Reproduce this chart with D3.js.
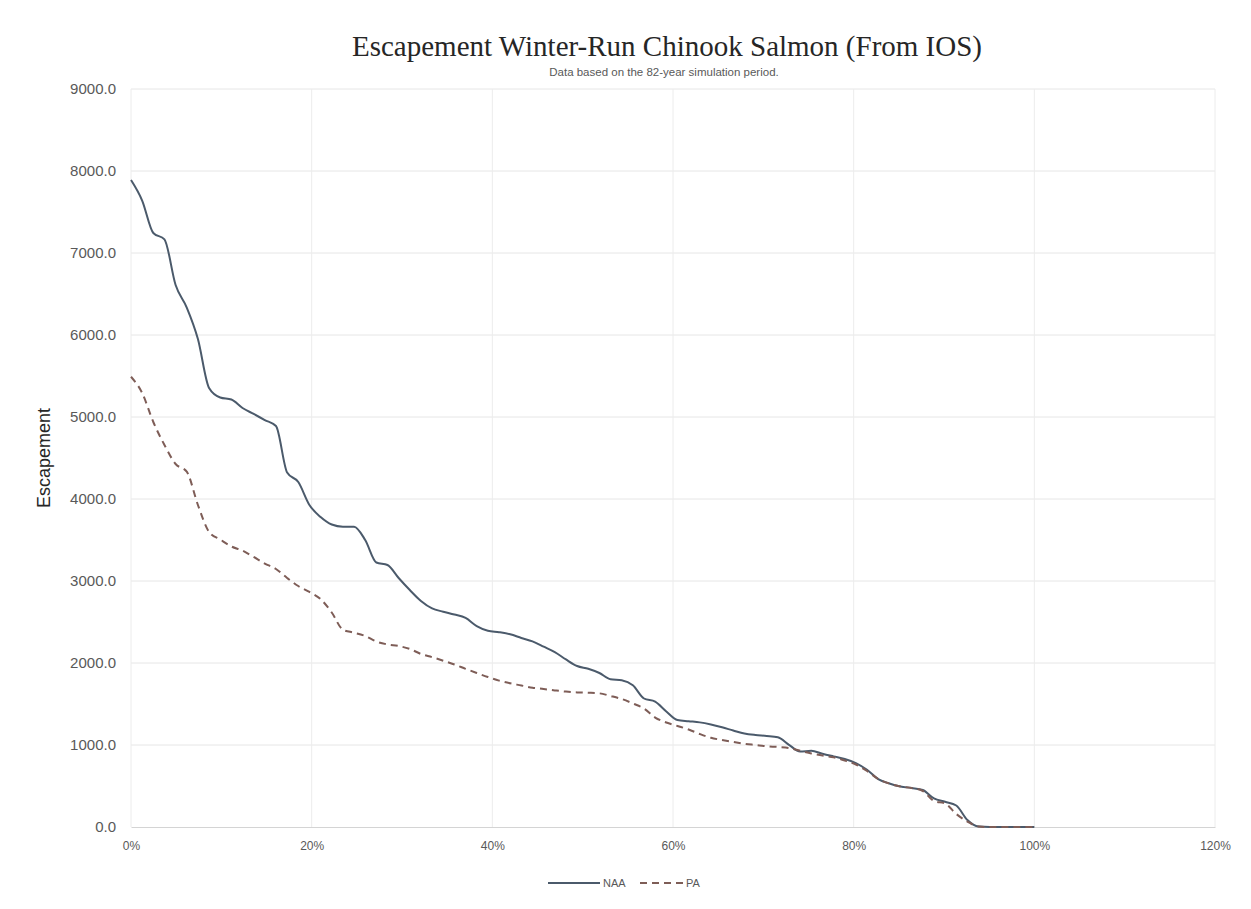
<!DOCTYPE html>
<html>
<head>
<meta charset="utf-8">
<script src="https://cdn.jsdelivr.net/npm/d3@7"></script>
<style>
  body { margin: 0; background: #fff; }
  text { font-family: "Liberation Sans", Arial, sans-serif; }
</style>
</head>
<body>
<script>
const width = 1251;
const height = 909;

// Escapement values, sorted descending (82-year period)
const naa = [
  7890, 7640, 7244, 7167, 6610, 6335, 5951, 5354, 5238, 5213,
  5110, 5037, 4963, 4890, 4323, 4207, 3927, 3780, 3689, 3662,
  3662, 3500, 3226, 3195, 3037, 2890, 2756, 2665, 2626, 2591,
  2549, 2451, 2394, 2376, 2350, 2305, 2263, 2199, 2132, 2043,
  1963, 1930, 1878, 1801, 1789, 1728, 1567, 1528, 1409, 1305,
  1290, 1276, 1250, 1216, 1177, 1140, 1122, 1111, 1094, 1002,
  921, 929, 893, 861, 830, 780, 698, 585, 530, 494,
  476, 451, 348, 307, 262, 85, 6, 0, 0, 0,
  0, 0
];
const pa = [
  5491, 5293, 4939, 4659, 4427, 4333, 3927, 3598, 3506, 3421,
  3370, 3293, 3213, 3146, 3037, 2939, 2866, 2780, 2616, 2406,
  2370, 2329, 2262, 2226, 2207, 2171, 2110, 2071, 2028, 1982,
  1929, 1878, 1829, 1785, 1752, 1726, 1698, 1683, 1666, 1651,
  1641, 1637, 1630, 1598, 1561, 1506, 1445, 1335, 1274, 1232,
  1189, 1134, 1088, 1061, 1037, 1015, 1000, 985, 976, 963,
  929, 896, 872, 850, 811, 762, 683, 585, 530, 494,
  476, 439, 317, 287, 159, 67, 6, 0, 0, 0,
  0, 0
];
const yTicks = [0, 1000, 2000, 3000, 4000, 5000, 6000, 7000, 8000, 9000];
const xTicks = [0, 0.2, 0.4, 0.6, 0.8, 1.0, 1.2];

const series = [
  { name: "NAA", values: naa, color: "#4b5a6b", dash: null },
  { name: "PA", values: pa, color: "#7e5d57", dash: "7,5" }
];

const margin = { left: 131, right: 36, top: 89, bottom: 82 };

const svg = d3
  .select("body")
  .append("svg")
  .attr("width", width)
  .attr("height", height);

const x = d3
  .scaleLinear()
  .domain([0, 1.2])
  .range([margin.left, width - margin.right]);

const y = d3
  .scaleLinear()
  .domain([0, 9000])
  .range([height - margin.bottom, margin.top]);

// gridlines
svg
  .append("g")
  .selectAll("line")
  .data(yTicks.slice(1))
  .enter()
  .append("line")
  .attr("x1", x(0))
  .attr("x2", x(1.2))
  .attr("y1", (d) => y(d))
  .attr("y2", (d) => y(d))
  .attr("stroke", "#e6e6e6")
  .attr("stroke-width", 1);

svg
  .append("g")
  .selectAll("line")
  .data(xTicks)
  .enter()
  .append("line")
  .attr("x1", (d) => x(d))
  .attr("x2", (d) => x(d))
  .attr("y1", y(0))
  .attr("y2", y(9000))
  .attr("stroke", "#ececec")
  .attr("stroke-width", 1);

// axes
const yAxis = svg
  .append("g")
  .attr("transform", `translate(${margin.left - 12},0)`)
  .call(d3.axisLeft(y).tickValues(yTicks).tickSize(0).tickFormat(d3.format(".1f")));
yAxis.select(".domain").remove();
yAxis
  .selectAll("text")
  .attr("fill", "#595959")
  .style("font-size", "15px");

const xAxis = svg
  .append("g")
  .attr("transform", `translate(0,${y(0)})`)
  .call(d3.axisBottom(x).tickValues(xTicks).tickSize(0).tickFormat(d3.format(".0%")));
xAxis.select(".domain").attr("stroke", "#d4d4d4");
xAxis
  .selectAll("text")
  .attr("y", 14)
  .attr("dy", "0.71em")
  .attr("fill", "#595959")
  .style("font-size", "12px");

// lines (smoothed like the spreadsheet original)
const line = d3
  .line()
  .x((d, i, arr) => x(i / (arr.length - 1)))
  .y((d) => y(d))
  .curve(d3.curveMonotoneX);

svg
  .append("g")
  .selectAll("path")
  .data(series)
  .enter()
  .append("path")
  .attr("d", (d) => line(d.values))
  .attr("fill", "none")
  .attr("stroke", (d) => d.color)
  .attr("stroke-width", 2)
  .attr("stroke-linejoin", "round")
  .attr("stroke-dasharray", (d) => d.dash);

// titles
svg
  .append("text")
  .attr("x", 667)
  .attr("y", 56)
  .attr("text-anchor", "middle")
  .style("font-family", "'Liberation Serif', 'Times New Roman', serif")
  .style("font-size", "29px")
  .attr("fill", "#262626")
  .text("Escapement Winter-Run Chinook Salmon (From IOS)");

svg
  .append("text")
  .attr("x", 664)
  .attr("y", 76)
  .attr("text-anchor", "middle")
  .style("font-size", "11.5px")
  .attr("fill", "#595959")
  .text("Data based on the 82-year simulation period.");

svg
  .append("text")
  .attr("transform", `translate(50,${(y(0) + y(9000)) / 2}) rotate(-90)`)
  .attr("text-anchor", "middle")
  .style("font-size", "18px")
  .attr("fill", "#262626")
  .text("Escapement");

// legend
const legend = svg
  .append("g")
  .selectAll("g")
  .data(series)
  .enter()
  .append("g")
  .attr("transform", (d, i) => `translate(${548 + i * 92},883)`);

legend
  .append("line")
  .attr("x1", 0)
  .attr("x2", (d, i) => (i === 0 ? 52 : 43))
  .attr("stroke", (d) => d.color)
  .attr("stroke-width", 2)
  .attr("stroke-dasharray", (d) => d.dash);

legend
  .append("text")
  .attr("x", (d, i) => (i === 0 ? 55 : 46))
  .attr("dy", "0.35em")
  .style("font-size", "11px")
  .attr("fill", "#595959")
  .text((d) => d.name);
</script>
</body>
</html>
